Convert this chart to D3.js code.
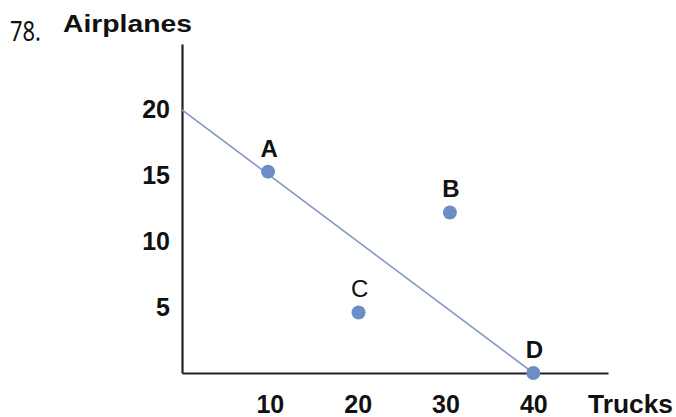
<!DOCTYPE html>
<html>
<head>
<meta charset="utf-8">
<script src="https://cdn.jsdelivr.net/npm/d3@7"></script>
<style>
  body { margin: 0; background: #fff; }
  text { font-family: "Liberation Sans", Arial, sans-serif; fill: #111; }
</style>
</head>
<body>
<div id="chart"></div>
<script>
// points (trucks, airplanes)
const pointNames = ["A", "B", "C", "D"]
const trucks = [9.8, 30.5, 20.1, 40]
const airplanes = [15.3, 12.2, 4.6, 0]

// production possibilities line
const lineTrucks = [0, 40]
const lineAirplanes = [20, 0]

const xTicks = [10, 20, 30, 40]
const yTicks = [5, 10, 15, 20]

drawChart()

function drawChart() {
    var width = 676,
        height = 417

    var svg = d3.select("#chart")
        .append("svg")
        .attr("width", width)
        .attr("height", height)

    // scales, origin of the axes is at (182, 373)
    var x = d3.scaleLinear()
        .domain([0, 48.5])
        .range([182, 608])
    var y = d3.scaleLinear()
        .domain([0, 25])
        .range([373, 44])

    // X axis
    var xAxis = svg.append("g")
        .attr("transform", "translate(0," + y(0) + ")")
        .call(d3.axisBottom(x).tickValues(xTicks).tickSize(0).tickSizeOuter(0).tickPadding(22))
    xAxis.select(".domain").attr("stroke", "#222").attr("stroke-width", 2.2)
    xAxis.selectAll("text")
        .style("font-size", "25px")
        .style("font-weight", "bold")
        .style("font-family", "Liberation Sans, Arial, sans-serif")
        .attr("fill", "#111")

    // Y axis
    var yAxis = svg.append("g")
        .attr("transform", "translate(" + x(0) + ",0)")
        .call(d3.axisLeft(y).tickValues(yTicks).tickSize(0).tickSizeOuter(0).tickPadding(12))
    yAxis.select(".domain").attr("stroke", "#222").attr("stroke-width", 2.2)
    yAxis.selectAll("text")
        .style("font-size", "25px")
        .style("font-weight", "bold")
        .style("font-family", "Liberation Sans, Arial, sans-serif")
        .attr("fill", "#111")

    // axis titles
    svg.append("text")
        .attr("x", 63)
        .attr("y", 32)
        .attr("textLength", 129)
        .attr("lengthAdjust", "spacingAndGlyphs")
        .style("font-size", "23px")
        .style("font-weight", "bold")
        .text("Airplanes")
    svg.append("text")
        .attr("x", 588)
        .attr("y", 413)
        .attr("textLength", 85)
        .attr("lengthAdjust", "spacingAndGlyphs")
        .style("font-size", "25px")
        .style("font-weight", "bold")
        .text("Trucks")

    // question number
    svg.append("text")
        .attr("x", 10)
        .attr("y", 41)
        .attr("textLength", 31)
        .attr("lengthAdjust", "spacingAndGlyphs")
        .style("font-family", "Noto Sans, DejaVu Sans, sans-serif")
        .style("font-size", "27px")
        .text("78.")

    // the line
    var lineData = lineTrucks.map(function (d, i) { return { t: d, a: lineAirplanes[i] } })
    svg.append("path")
        .datum(lineData)
        .attr("fill", "none")
        .attr("stroke", "#8299c2")
        .attr("stroke-width", 1.6)
        .attr("d", d3.line()
            .x(function (d) { return x(d.t) })
            .y(function (d) { return y(d.a) }))

    // points
    var pts = pointNames.map(function (n, i) { return { name: n, t: trucks[i], a: airplanes[i] } })
    svg.selectAll("circle.pt")
        .data(pts)
        .enter()
        .append("circle")
        .attr("class", "pt")
        .attr("cx", function (d) { return x(d.t) })
        .attr("cy", function (d) { return y(d.a) })
        .attr("r", 7)
        .attr("fill", "#6d8ec4")

    svg.selectAll("text.lbl")
        .data(pts)
        .enter()
        .append("text")
        .attr("class", "lbl")
        .attr("x", function (d) { return x(d.t) + 1 })
        .attr("y", function (d) { return y(d.a) - 15 })
        .attr("text-anchor", "middle")
        .style("font-size", "24px")
        .style("font-weight", function (d) { return d.name === "C" ? "normal" : "bold" })
        .text(function (d) { return d.name })
}
</script>
</body>
</html>
